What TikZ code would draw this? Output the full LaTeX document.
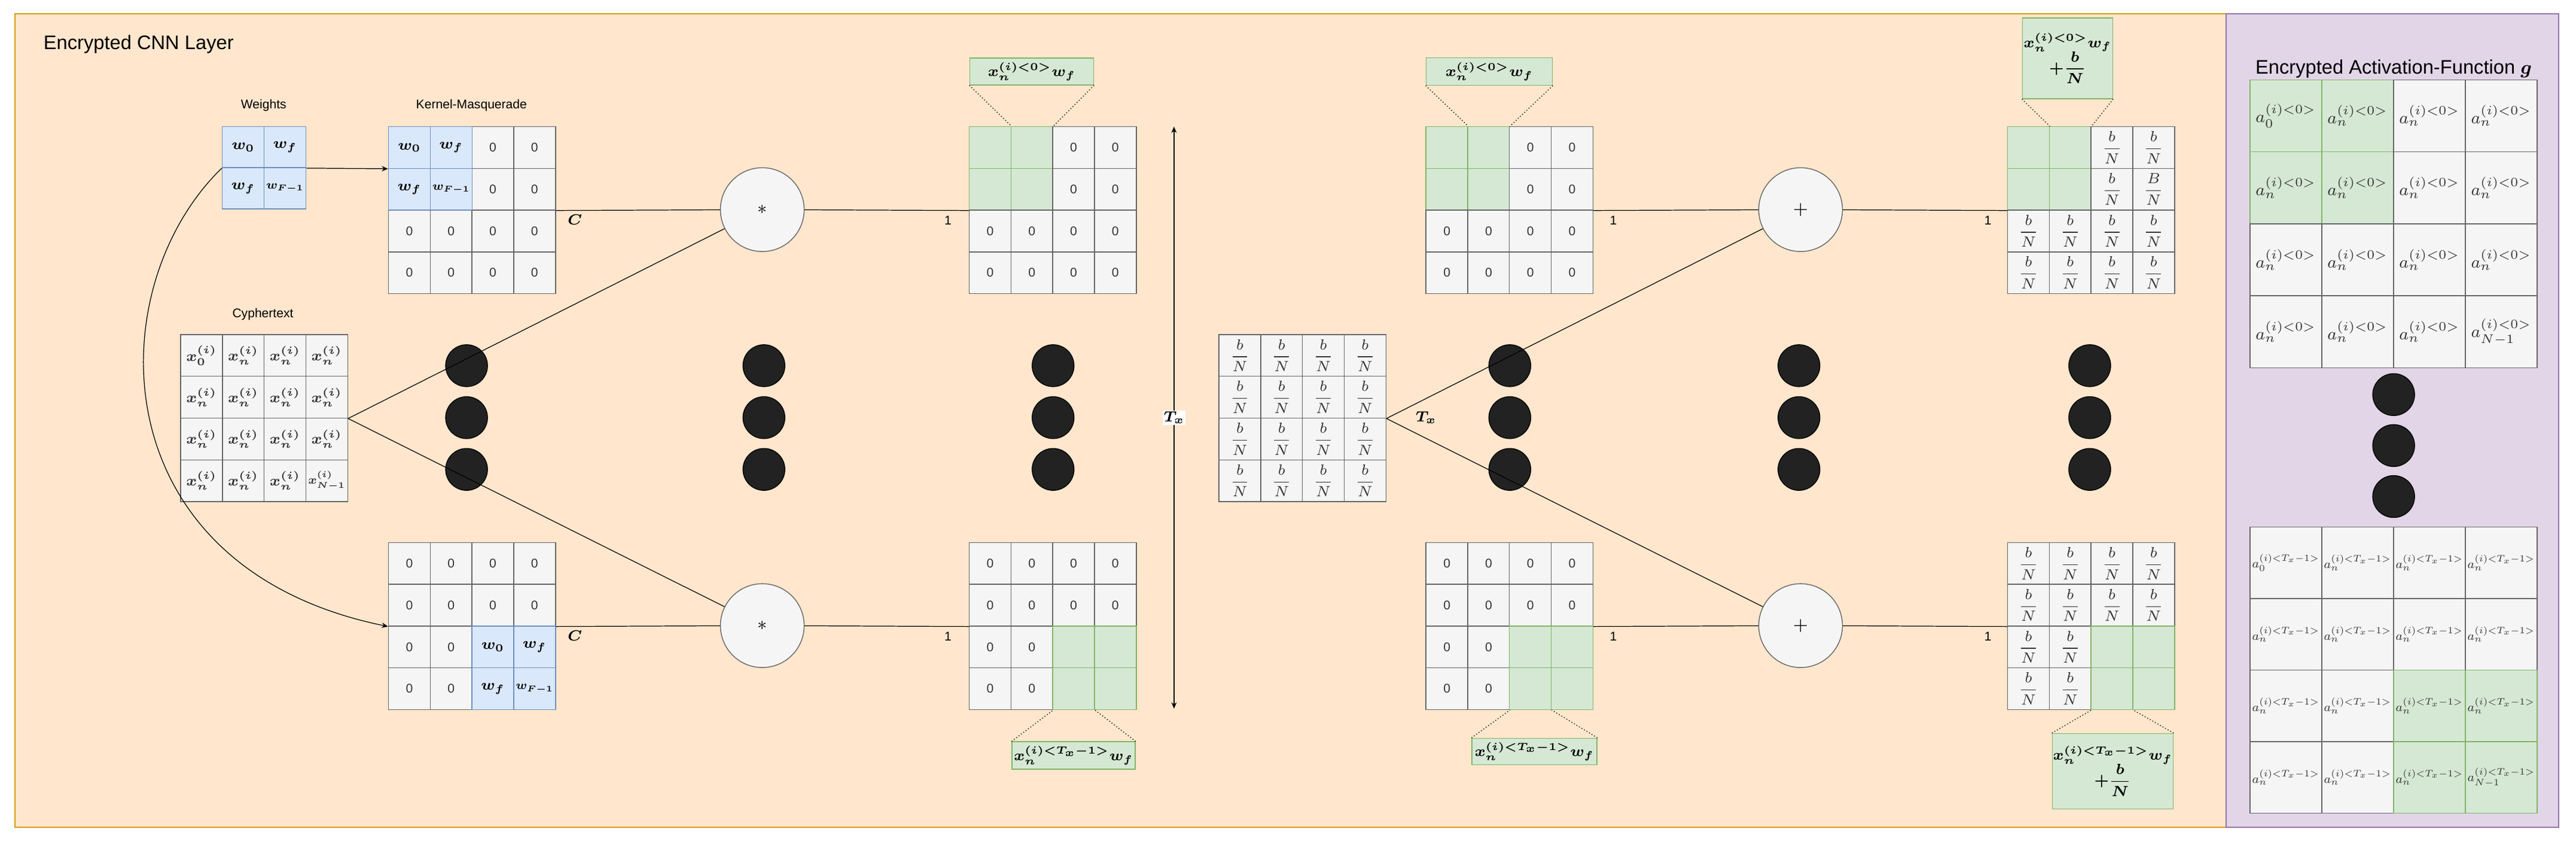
\documentclass[tikz,border=0pt]{standalone}
\usepackage{amsmath}
\usepackage{graphicx}
\usepackage{fontspec}
\setmainfont{Liberation Sans}
\usetikzlibrary{arrows.meta, positioning}
\definecolor{layerfill}{HTML}{FFE6CC}
\definecolor{layerdraw}{HTML}{D79B00}
\definecolor{actfill}{HTML}{E1D5E7}
\definecolor{actdraw}{HTML}{9673A6}
\definecolor{cellfill}{HTML}{F5F5F5}
\definecolor{celldraw}{HTML}{666666}
\definecolor{greenfill}{HTML}{D5E8D4}
\definecolor{greendraw}{HTML}{82B366}
\definecolor{bluefill}{HTML}{DAE8FC}
\definecolor{bluedraw}{HTML}{6C8EBF}
\definecolor{dotfill}{HTML}{222222}

\begin{document}
\begin{tikzpicture}[x=0.2747mm, y=-0.2747mm,
    cell/.style={draw=celldraw, fill=cellfill, minimum width=7mm, minimum height=6.97mm, inner sep=0pt, text=black!80, font=\fontsize{6}{7}\selectfont},
    gcell/.style={cell, draw=greendraw, fill=greenfill},
    bcell/.style={cell, draw=bluedraw, fill=bluefill, text=black, font=\boldmath\fontsize{7}{8}\selectfont},
    xcell/.style={cell, font=\boldmath\fontsize{7}{8}\selectfont},
    fcell/.style={cell, font=\fontsize{7}{8}\selectfont},
    acell/.style={cell, minimum width=12mm, minimum height=12.03mm, font=\fontsize{8}{9}\selectfont},
    agcell/.style={acell, draw=greendraw, fill=greenfill},
    tcell/.style={acell, minimum height=11.95mm},
    tgcell/.style={tcell, draw=greendraw, fill=greenfill},
    op/.style={circle, draw=celldraw, fill=cellfill, minimum size=14mm, inner sep=0pt, font=\fontsize{9}{10}\selectfont},
    dot/.style={circle, fill=dotfill, draw=black, minimum size=7mm, inner sep=0pt},
    zoombox/.style={draw=greendraw, fill=greenfill, inner sep=0pt, align=center, font=\boldmath\fontsize{7}{8}\selectfont},
    lbl/.style={font=\fontsize{6}{7}\selectfont},
    ttl/.style={font=\fontsize{9.3}{11}\selectfont},
    wire/.style={draw=black, line width=0.35pt},
    zoomline/.style={draw=black, densely dotted, line width=0.4pt}]
    \useasboundingbox (0,0) rectangle (1568,514.8);
    % Panels
    \draw[fill=layerfill, draw=layerdraw, line width=0.5pt] (9,8.5) rectangle (1355,503);
    \draw[fill=actfill, draw=actdraw, line width=0.5pt] (1355,8.5) rectangle (1557.5,503);
    \node[ttl, anchor=west] (cnn) at (22,27) {Encrypted CNN Layer};
    \node[ttl] (act) at (1457,42) {Encrypted Activation-Function {\boldmath$g$}};
    % Labels
    \node[lbl] (wlbl) at (160.5,64) {Weights};
    \node[lbl] (klbl) at (287,64) {Kernel-Masquerade};
    \node[lbl] (clbl) at (160,191) {Cyphertext};
    % Weights
    \node[bcell, minimum height=6.87mm] (wgt-1-1) at (148,89.5) {$w_0$};
    \node[bcell, minimum height=6.87mm] (wgt-1-2) at (173.5,89.5) {$w_f$};
    \node[bcell, minimum height=6.87mm] (wgt-2-1) at (148,114.5) {$w_f$};
    \node[bcell, minimum height=6.87mm] (wgt-2-2) at (173.5,114.5) {\scalebox{0.8}{$w_{F{-}1}$}};
    % Grids
    \foreach \r in {1,...,4}
      \foreach \c in {1,...,4} {
        \pgfmathtruncatemacro\ul{(\r<3)&&(\c<3)}
        \pgfmathtruncatemacro\lr{(\r>2)&&(\c>2)}
        \pgfmathtruncatemacro\cor{((\r==1)&&(\c==1))||((\r==4)&&(\c==4))}
        \pgfmathtruncatemacro\bb{(\r==2)&&(\c==4)}
        \ifnum\ul=0
          \node[cell] (kt-\r-\c) at ({236.5+(\c-0.5)*25.4},{77+(\r-0.5)*25.4}) {0};
          \node[cell] (ot-\r-\c) at ({590+(\c-0.5)*25.4},{77+(\r-0.5)*25.4}) {0};
          \node[cell] (at-\r-\c) at ({868+(\c-0.5)*25.4},{77+(\r-0.5)*25.4}) {0};
          \ifnum\bb=0
            \node[fcell] (rt-\r-\c) at ({1222+(\c-0.5)*25.4},{77+(\r-0.5)*25.4}) {$\dfrac{b}{N}$};
          \fi
        \else
          \node[gcell] (ot-\r-\c) at ({590+(\c-0.5)*25.4},{77+(\r-0.5)*25.4}) {};
          \node[gcell] (at-\r-\c) at ({868+(\c-0.5)*25.4},{77+(\r-0.5)*25.4}) {};
          \node[gcell] (rt-\r-\c) at ({1222+(\c-0.5)*25.4},{77+(\r-0.5)*25.4}) {};
        \fi
        \ifnum\lr=0
          \node[cell] (kb-\r-\c) at ({236.5+(\c-0.5)*25.4},{330+(\r-0.5)*25.4}) {0};
          \node[cell] (ob-\r-\c) at ({590+(\c-0.5)*25.4},{330+(\r-0.5)*25.4}) {0};
          \node[cell] (ab-\r-\c) at ({868+(\c-0.5)*25.4},{330+(\r-0.5)*25.4}) {0};
          \node[fcell] (rb-\r-\c) at ({1222+(\c-0.5)*25.4},{330+(\r-0.5)*25.4}) {$\dfrac{b}{N}$};
        \else
          \node[gcell] (ob-\r-\c) at ({590+(\c-0.5)*25.4},{330+(\r-0.5)*25.4}) {};
          \node[gcell] (ab-\r-\c) at ({868+(\c-0.5)*25.4},{330+(\r-0.5)*25.4}) {};
          \node[gcell] (rb-\r-\c) at ({1222+(\c-0.5)*25.4},{330+(\r-0.5)*25.4}) {};
        \fi
        \node[fcell] (bn-\r-\c) at ({742+(\c-0.5)*25.4},{203.5+(\r-0.5)*25.4}) {$\dfrac{b}{N}$};
        \ifnum\cor=0
          \node[xcell] (cy-\r-\c) at ({110+(\c-0.5)*25.4},{203.5+(\r-0.5)*25.4}) {$x_n^{(i)}$};
          \ifnum\ul=0
            \node[acell] (pt-\r-\c) at ({1369.5+(\c-0.5)*43.7},{48.5+(\r-0.5)*43.8}) {$a_n^{(i){<}0{>}}$};
          \else
            \node[agcell] (pt-\r-\c) at ({1369.5+(\c-0.5)*43.7},{48.5+(\r-0.5)*43.8}) {$a_n^{(i){<}0{>}}$};
          \fi
          \ifnum\lr=0
            \node[tcell] (pb-\r-\c) at ({1369.5+(\c-0.5)*43.7},{320.5+(\r-0.5)*43.5}) {\scalebox{0.74}{$a_n^{(i){<}T_x{-}1{>}}$}};
          \else
            \node[tgcell] (pb-\r-\c) at ({1369.5+(\c-0.5)*43.7},{320.5+(\r-0.5)*43.5}) {\scalebox{0.74}{$a_n^{(i){<}T_x{-}1{>}}$}};
          \fi
        \fi
      }
    % Special cells
    \node[bcell] (kt-1-1) at (249.2,89.7) {$w_0$};
    \node[bcell] (kt-1-2) at (274.6,89.7) {$w_f$};
    \node[bcell] (kt-2-1) at (249.2,115.1) {$w_f$};
    \node[bcell] (kt-2-2) at (274.6,115.1) {\scalebox{0.8}{$w_{F{-}1}$}};
    \node[bcell] (kb-3-3) at (300,393.5) {$w_0$};
    \node[bcell] (kb-3-4) at (325.4,393.5) {$w_f$};
    \node[bcell] (kb-4-3) at (300,418.9) {$w_f$};
    \node[bcell] (kb-4-4) at (325.4,418.9) {\scalebox{0.8}{$w_{F{-}1}$}};
    \node[xcell] (cy-1-1) at (122.7,216.2) {$x_0^{(i)}$};
    \node[xcell] (cy-4-4) at (198.9,292.4) {\scalebox{0.8}{$x_{N{-}1}^{(i)}$}};
    \node[fcell] (rt-2-4) at (1310.9,115.1) {$\dfrac{B}{N}$};
    \node[agcell] (pt-1-1) at (1391.35,70.4) {$a_0^{(i){<}0{>}}$};
    \node[acell] (pt-4-4) at (1522.45,201.8) {$a_{N{-}1}^{(i){<}0{>}}$};
    \node[tcell] (pb-1-1) at (1391.35,342.25) {\scalebox{0.74}{$a_0^{(i){<}T_x{-}1{>}}$}};
    \node[tgcell] (pb-4-4) at (1522.45,472.75) {\scalebox{0.74}{$a_{N{-}1}^{(i){<}T_x{-}1{>}}$}};
    % Operators
    \node[op] (mul1) at (464,127.5) {$\ast$};
    \node[op] (mul2) at (464,380.5) {$\ast$};
    \node[op] (add1) at (1096,127.5) {$+$};
    \node[op] (add2) at (1096,380.5) {$+$};
    % Dots
    \foreach \x/\n in {284/a,465/b,641/c,919/d,1095/e,1272/f}
      \foreach \y/\m in {222.4/1,254/2,285.5/3}
        \node[dot] (dot-\n\m) at (\x,\y) {};
    \foreach \y/\m in {240/1,271/2,302/3}
      \node[dot] (dot-g\m) at (1457,\y) {};
    % Wires
    \draw[wire, -{Stealth[length=3pt, width=2.5pt]}] (wgt-1-2.south east) -- (kt-1-1.south west);
    \draw[wire, -{Stealth[length=3pt, width=2.5pt]}] (wgt-1-1.south west) .. controls (60,175) and (60,345) .. (kb-2-1.south west);
    \draw[wire] (cy-2-4.south east) -- (mul1);
    \draw[wire] (cy-2-4.south east) -- (mul2);
    \draw[wire] (kt-2-4.south east) -- (mul1);
    \draw[wire] (mul1) -- (ot-2-1.south west);
    \draw[wire] (kb-2-4.south east) -- (mul2);
    \draw[wire] (mul2) -- (ob-2-1.south west);
    \draw[wire] (bn-2-4.south east) -- (add1);
    \draw[wire] (bn-2-4.south east) -- (add2);
    \draw[wire] (at-2-4.south east) -- (add1);
    \draw[wire] (add1) -- (rt-2-1.south west);
    \draw[wire] (ab-2-4.south east) -- (add2);
    \draw[wire] (add2) -- (rb-2-1.south west);
    \node[lbl, font=\boldmath\fontsize{7}{8}\selectfont] (ct) at (350,133.5) {$C$};
    \node[lbl, font=\boldmath\fontsize{7}{8}\selectfont] (cb) at (350,386.5) {$C$};
    \node[lbl] (one1) at (577,134) {1};
    \node[lbl] (one2) at (577,387) {1};
    \node[lbl] (one3) at (982,134) {1};
    \node[lbl] (one4) at (1210,134) {1};
    \node[lbl] (one5) at (982,387) {1};
    \node[lbl] (one6) at (1210,387) {1};
    \node[lbl, font=\boldmath\fontsize{7}{8}\selectfont] (txr) at (868,254) {$T_x$};
    % Time axis
    \coordinate (tx1) at (714.6,77);
    \coordinate (tx2) at (714.6,431);
    \draw[wire, {Stealth[length=3pt, width=2.5pt]}-{Stealth[length=3pt, width=2.5pt]}] (tx1) -- (tx2)
      node[midway, fill=white, inner sep=0.5pt, font=\boldmath\fontsize{7}{8}\selectfont] (txl) {$T_x$};
    % Zoom boxes
    \node[zoombox, minimum width=20.7mm, minimum height=4.5mm] (zot) at (628,43.5) {$x_n^{(i){<}0{>}}w_f$};
    \node[zoombox, minimum width=21.1mm, minimum height=4.6mm] (zat) at (906.5,43.5) {$x_n^{(i){<}0{>}}w_f$};
    \node[zoombox, minimum width=20.6mm, minimum height=4.6mm] (zob) at (653.5,459.5) {$x_n^{(i){<}T_x{-}1{>}}w_f$};
    \node[zoombox, minimum width=20.9mm, minimum height=4.4mm] (zab) at (934,457) {$x_n^{(i){<}T_x{-}1{>}}w_f$};
    \node[zoombox, minimum width=15.1mm, minimum height=13.5mm] (zrt) at (1258.5,35.5) {$x_n^{(i){<}0{>}}w_f$\\[-1pt]$+\dfrac{b}{N}$};
    \node[zoombox, minimum width=20.2mm, minimum height=12.6mm] (zrb) at (1286,469) {$x_n^{(i){<}T_x{-}1{>}}w_f$\\[-1pt]$+\dfrac{b}{N}$};
    \draw[zoomline] (zot.south west) -- (ot-1-1.north east);
    \draw[zoomline] (zot.south east) -- (ot-1-2.north east);
    \draw[zoomline] (zat.south west) -- (at-1-1.north east);
    \draw[zoomline] (zat.south east) -- (at-1-2.north east);
    \draw[zoomline] (zrt.south west) -- (rt-1-1.north east);
    \draw[zoomline] (zrt.south east) -- (rt-1-2.north east);
    \draw[zoomline] (zob.north west) -- (ob-4-2.south east);
    \draw[zoomline] (zob.north east) -- (ob-4-3.south east);
    \draw[zoomline] (zab.north west) -- (ab-4-2.south east);
    \draw[zoomline] (zab.north east) -- (ab-4-3.south east);
    \draw[zoomline] (zrb.north west) -- (rb-4-2.south east);
    \draw[zoomline] (zrb.north east) -- (rb-4-3.south east);
\end{tikzpicture}
\end{document}
